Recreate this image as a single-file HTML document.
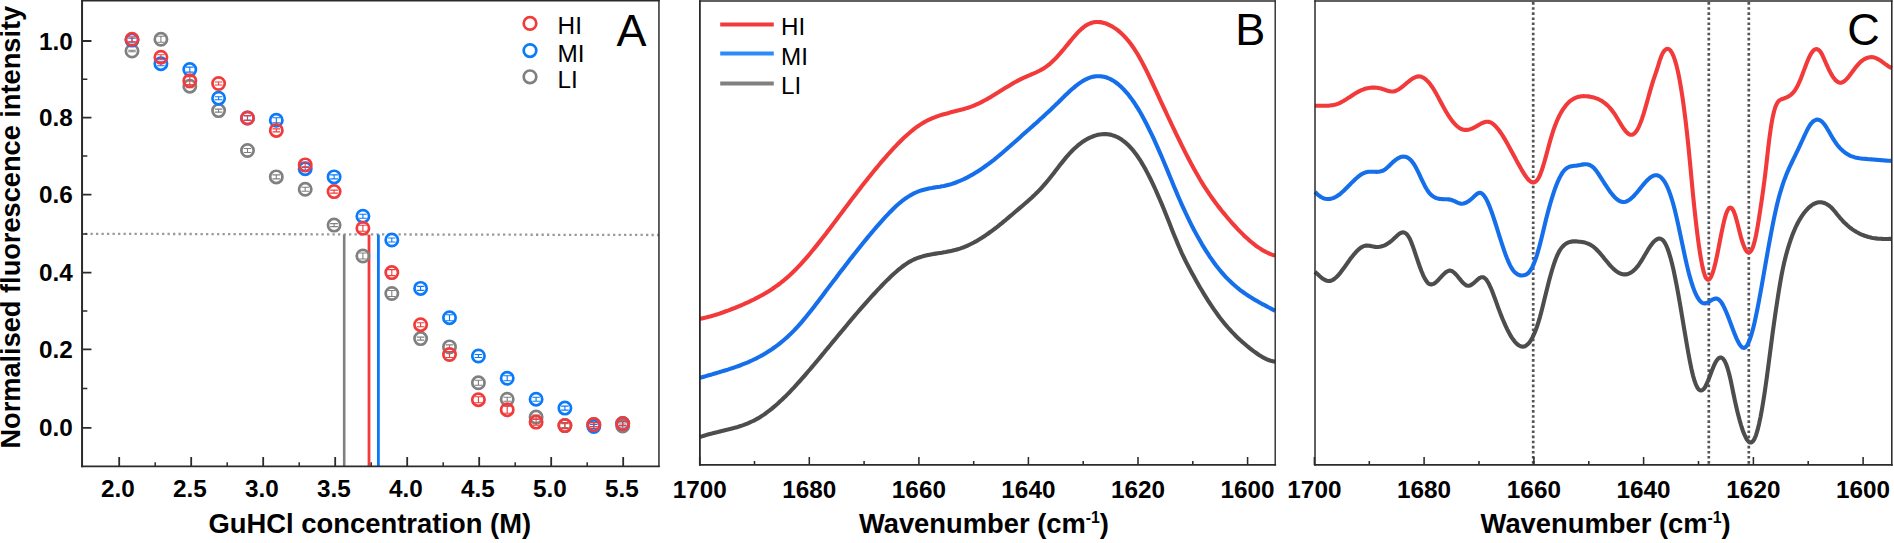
<!DOCTYPE html>
<html lang="en">
<head>
<meta charset="utf-8">
<title>Figure: GuHCl denaturation and FTIR spectra</title>
<style>
html,body{margin:0;padding:0;background:#fff;}
body{width:1894px;height:543px;overflow:hidden;font-family:"Liberation Sans", sans-serif;}
svg{display:block;}
</style>
</head>
<body>
<svg width="1894" height="543" viewBox="0 0 1894 543">
<rect x="0" y="0" width="1894" height="543" fill="#ffffff"/>
<g id="panelA">
<line x1="85.0" y1="233.8" x2="659.0" y2="235.0" stroke="#9a9a9a" stroke-width="2.3" stroke-dasharray="2.3 3.2"/>
<line x1="344.2" y1="234.6" x2="344.2" y2="466.0" stroke="#808080" stroke-width="2.6"/>
<line x1="369.0" y1="234.6" x2="369.0" y2="466.0" stroke="#f23a3a" stroke-width="2.8"/>
<line x1="378.4" y1="234.6" x2="378.4" y2="466.0" stroke="#0a7afa" stroke-width="2.8"/>
<g fill="none" stroke="#808080">
<circle cx="132" cy="51" r="6.15" stroke-width="2.7"/>
<path d="M132 50.2V51.8M128.2 50.2H135.8M128.2 51.8H135.8" stroke-width="1.1"/>
<circle cx="160.9" cy="39.3" r="6.15" stroke-width="2.7"/>
<path d="M160.9 36.3V42.3M157.1 36.3H164.7M157.1 42.3H164.7" stroke-width="1.1"/>
<circle cx="189.8" cy="86.2" r="6.15" stroke-width="2.7"/>
<path d="M189.8 84.7V87.7M185.9 84.7H193.6M185.9 87.7H193.6" stroke-width="1.1"/>
<circle cx="218.6" cy="110.6" r="6.15" stroke-width="2.7"/>
<path d="M218.6 109.1V112.1M214.8 109.1H222.4M214.8 112.1H222.4" stroke-width="1.1"/>
<circle cx="247.5" cy="150.5" r="6.15" stroke-width="2.7"/>
<path d="M247.5 148.5V152.5M243.7 148.5H251.3M243.7 152.5H251.3" stroke-width="1.1"/>
<circle cx="276.3" cy="176.9" r="6.15" stroke-width="2.7"/>
<path d="M276.3 174.9V178.9M272.5 174.9H280.1M272.5 178.9H280.1" stroke-width="1.1"/>
<circle cx="305.2" cy="189.3" r="6.15" stroke-width="2.7"/>
<path d="M305.2 187.3V191.3M301.4 187.3H309M301.4 191.3H309" stroke-width="1.1"/>
<circle cx="334.1" cy="225.1" r="6.15" stroke-width="2.7"/>
<path d="M334.1 223.6V226.6M330.2 223.6H337.9M330.2 226.6H337.9" stroke-width="1.1"/>
<circle cx="362.9" cy="256" r="6.15" stroke-width="2.7"/>
<path d="M362.9 253V259M359.1 253H366.7M359.1 259H366.7" stroke-width="1.1"/>
<circle cx="391.8" cy="293.5" r="6.15" stroke-width="2.7"/>
<path d="M391.8 290.5V296.5M388 290.5H395.6M388 296.5H395.6" stroke-width="1.1"/>
<circle cx="420.6" cy="338.6" r="6.15" stroke-width="2.7"/>
<path d="M420.6 337.1V340.1M416.8 337.1H424.4M416.8 340.1H424.4" stroke-width="1.1"/>
<circle cx="449.5" cy="346.9" r="6.15" stroke-width="2.7"/>
<path d="M449.5 344.9V348.9M445.7 344.9H453.3M445.7 348.9H453.3" stroke-width="1.1"/>
<circle cx="478.4" cy="382.8" r="6.15" stroke-width="2.7"/>
<path d="M478.4 380.3V385.3M474.6 380.3H482.2M474.6 385.3H482.2" stroke-width="1.1"/>
<circle cx="507.2" cy="399.2" r="6.15" stroke-width="2.7"/>
<path d="M507.2 397.2V401.2M503.4 397.2H511M503.4 401.2H511" stroke-width="1.1"/>
<circle cx="536.1" cy="417.1" r="6.15" stroke-width="2.7"/>
<path d="M536.1 415.1V419.1M532.3 415.1H539.9M532.3 419.1H539.9" stroke-width="1.1"/>
<circle cx="564.9" cy="425.6" r="6.15" stroke-width="2.7"/>
<path d="M564.9 423.6V427.6M561.1 423.6H568.7M561.1 427.6H568.7" stroke-width="1.1"/>
<circle cx="593.8" cy="424.6" r="6.15" stroke-width="2.7"/>
<path d="M593.8 422.6V426.6M590 422.6H597.6M590 426.6H597.6" stroke-width="1.1"/>
<circle cx="622.7" cy="426" r="6.15" stroke-width="2.7"/>
<path d="M622.7 424V428M618.9 424H626.5M618.9 428H626.5" stroke-width="1.1"/>
</g>
<g fill="none" stroke="#0a7afa">
<circle cx="132" cy="40.1" r="6.15" stroke-width="2.7"/>
<path d="M132 38.1V42.1M128.2 38.1H135.8M128.2 42.1H135.8" stroke-width="1.1"/>
<circle cx="160.9" cy="63.7" r="6.15" stroke-width="2.7"/>
<path d="M160.9 61.7V65.7M157.1 61.7H164.7M157.1 65.7H164.7" stroke-width="1.1"/>
<circle cx="189.8" cy="69.6" r="6.15" stroke-width="2.7"/>
<path d="M189.8 67.1V72.1M185.9 67.1H193.6M185.9 72.1H193.6" stroke-width="1.1"/>
<circle cx="218.6" cy="98.2" r="6.15" stroke-width="2.7"/>
<path d="M218.6 96.7V99.7M214.8 96.7H222.4M214.8 99.7H222.4" stroke-width="1.1"/>
<circle cx="247.5" cy="118" r="6.15" stroke-width="2.7"/>
<path d="M247.5 116V120M243.7 116H251.3M243.7 120H251.3" stroke-width="1.1"/>
<circle cx="276.3" cy="120.3" r="6.15" stroke-width="2.7"/>
<path d="M276.3 117.8V122.8M272.5 117.8H280.1M272.5 122.8H280.1" stroke-width="1.1"/>
<circle cx="305.2" cy="168.7" r="6.15" stroke-width="2.7"/>
<path d="M305.2 166.7V170.7M301.4 166.7H309M301.4 170.7H309" stroke-width="1.1"/>
<circle cx="334.1" cy="176.9" r="6.15" stroke-width="2.7"/>
<path d="M334.1 174.9V178.9M330.2 174.9H337.9M330.2 178.9H337.9" stroke-width="1.1"/>
<circle cx="362.9" cy="216.2" r="6.15" stroke-width="2.7"/>
<path d="M362.9 214.2V218.2M359.1 214.2H366.7M359.1 218.2H366.7" stroke-width="1.1"/>
<circle cx="391.8" cy="240" r="6.15" stroke-width="2.7"/>
<path d="M391.8 238V242M388 238H395.6M388 242H395.6" stroke-width="1.1"/>
<circle cx="420.6" cy="288.4" r="6.15" stroke-width="2.7"/>
<path d="M420.6 286.4V290.4M416.8 286.4H424.4M416.8 290.4H424.4" stroke-width="1.1"/>
<circle cx="449.5" cy="317.7" r="6.15" stroke-width="2.7"/>
<path d="M449.5 314.7V320.7M445.7 314.7H453.3M445.7 320.7H453.3" stroke-width="1.1"/>
<circle cx="478.4" cy="356" r="6.15" stroke-width="2.7"/>
<path d="M478.4 354.5V357.5M474.6 354.5H482.2M474.6 357.5H482.2" stroke-width="1.1"/>
<circle cx="507.2" cy="378.3" r="6.15" stroke-width="2.7"/>
<path d="M507.2 375.8V380.8M503.4 375.8H511M503.4 380.8H511" stroke-width="1.1"/>
<circle cx="536.1" cy="399.2" r="6.15" stroke-width="2.7"/>
<path d="M536.1 397.2V401.2M532.3 397.2H539.9M532.3 401.2H539.9" stroke-width="1.1"/>
<circle cx="564.9" cy="408.1" r="6.15" stroke-width="2.7"/>
<path d="M564.9 406.1V410.1M561.1 406.1H568.7M561.1 410.1H568.7" stroke-width="1.1"/>
<circle cx="593.8" cy="426.5" r="6.15" stroke-width="2.7"/>
<path d="M593.8 424.5V428.5M590 424.5H597.6M590 428.5H597.6" stroke-width="1.1"/>
<circle cx="622.7" cy="423.6" r="6.15" stroke-width="2.7"/>
<path d="M622.7 421.6V425.6M618.9 421.6H626.5M618.9 425.6H626.5" stroke-width="1.1"/>
</g>
<g fill="none" stroke="#f23a3a">
<circle cx="132" cy="39.3" r="6.15" stroke-width="2.7"/>
<path d="M132 36.8V41.8M128.2 36.8H135.8M128.2 41.8H135.8" stroke-width="1.1"/>
<circle cx="160.9" cy="57.2" r="6.15" stroke-width="2.7"/>
<path d="M160.9 54.7V59.7M157.1 54.7H164.7M157.1 59.7H164.7" stroke-width="1.1"/>
<circle cx="189.8" cy="80.8" r="6.15" stroke-width="2.7"/>
<path d="M189.8 76.8V84.8M185.9 76.8H193.6M185.9 84.8H193.6" stroke-width="1.1"/>
<circle cx="218.6" cy="83.5" r="6.15" stroke-width="2.7"/>
<path d="M218.6 82V85M214.8 82H222.4M214.8 85H222.4" stroke-width="1.1"/>
<circle cx="247.5" cy="118" r="6.15" stroke-width="2.7"/>
<path d="M247.5 115.5V120.5M243.7 115.5H251.3M243.7 120.5H251.3" stroke-width="1.1"/>
<circle cx="276.3" cy="130.4" r="6.15" stroke-width="2.7"/>
<path d="M276.3 128.9V131.9M272.5 128.9H280.1M272.5 131.9H280.1" stroke-width="1.1"/>
<circle cx="305.2" cy="164.9" r="6.15" stroke-width="2.7"/>
<path d="M305.2 162.4V167.4M301.4 162.4H309M301.4 167.4H309" stroke-width="1.1"/>
<circle cx="334.1" cy="191.6" r="6.15" stroke-width="2.7"/>
<path d="M334.1 190.1V193.1M330.2 190.1H337.9M330.2 193.1H337.9" stroke-width="1.1"/>
<circle cx="362.9" cy="228.2" r="6.15" stroke-width="2.7"/>
<path d="M362.9 225.2V231.2M359.1 225.2H366.7M359.1 231.2H366.7" stroke-width="1.1"/>
<circle cx="391.8" cy="272.6" r="6.15" stroke-width="2.7"/>
<path d="M391.8 269.6V275.6M388 269.6H395.6M388 275.6H395.6" stroke-width="1.1"/>
<circle cx="420.6" cy="324.7" r="6.15" stroke-width="2.7"/>
<path d="M420.6 322.7V326.7M416.8 322.7H424.4M416.8 326.7H424.4" stroke-width="1.1"/>
<circle cx="449.5" cy="354.5" r="6.15" stroke-width="2.7"/>
<path d="M449.5 351.5V357.5M445.7 351.5H453.3M445.7 357.5H453.3" stroke-width="1.1"/>
<circle cx="478.4" cy="399.7" r="6.15" stroke-width="2.7"/>
<path d="M478.4 396.7V402.7M474.6 396.7H482.2M474.6 402.7H482.2" stroke-width="1.1"/>
<circle cx="507.2" cy="409.7" r="6.15" stroke-width="2.7"/>
<path d="M507.2 406.2V413.2M503.4 406.2H511M503.4 413.2H511" stroke-width="1.1"/>
<circle cx="536.1" cy="422.1" r="6.15" stroke-width="2.7"/>
<path d="M536.1 419.1V425.1M532.3 419.1H539.9M532.3 425.1H539.9" stroke-width="1.1"/>
<circle cx="564.9" cy="425.6" r="6.15" stroke-width="2.7"/>
<path d="M564.9 422.6V428.6M561.1 422.6H568.7M561.1 428.6H568.7" stroke-width="1.1"/>
<circle cx="593.8" cy="424.6" r="6.15" stroke-width="2.7"/>
<path d="M593.8 422.6V426.6M590 422.6H597.6M590 426.6H597.6" stroke-width="1.1"/>
<circle cx="622.7" cy="423.6" r="6.15" stroke-width="2.7"/>
<path d="M622.7 421.6V425.6M618.9 421.6H626.5M618.9 425.6H626.5" stroke-width="1.1"/>
</g>
<g fill="none" stroke="#2b2b2b" stroke-linecap="square">
<line x1="82.05" y1="0.75" x2="82.05" y2="466.3" stroke-width="2"/>
<line x1="82.05" y1="466.3" x2="658.95" y2="466.3" stroke-width="1.65"/>
<line x1="658.95" y1="0.75" x2="658.95" y2="466.3" stroke-width="1.5"/>
<line x1="82.05" y1="0.75" x2="658.95" y2="0.75" stroke-width="1.6"/>
</g>
<path d="M119.2 466.3v-9.4M191.2 466.3v-9.4M263.2 466.3v-9.4M335.2 466.3v-9.4M407.2 466.3v-9.4M479.2 466.3v-9.4M551.2 466.3v-9.4M623.2 466.3v-9.4M82.05 427.9h9.4M82.05 349.4h9.4M82.05 272.6h9.4M82.05 194.6h9.4M82.05 117.7h9.4M82.05 41.0h9.4" fill="none" stroke="#2b2b2b" stroke-width="1.8"/>
<path d="M155.2 466.3v-4.1M227.2 466.3v-4.1M299.2 466.3v-4.1M371.2 466.3v-4.1M443.2 466.3v-4.1M515.2 466.3v-4.1M587.2 466.3v-4.1M82.05 388.6h5.3M82.05 311.0h5.3M82.05 233.9h5.3M82.05 156.1h5.3M82.05 79.3h5.3" fill="none" stroke="#2b2b2b" stroke-width="1.5"/>
<g font-family='"Liberation Sans", sans-serif' font-weight="bold" font-size="24.3" fill="#000">
<text x="117.9" y="497.4" text-anchor="middle">2.0</text>
<text x="189.9" y="497.4" text-anchor="middle">2.5</text>
<text x="261.9" y="497.4" text-anchor="middle">3.0</text>
<text x="333.9" y="497.4" text-anchor="middle">3.5</text>
<text x="405.9" y="497.4" text-anchor="middle">4.0</text>
<text x="477.9" y="497.4" text-anchor="middle">4.5</text>
<text x="549.9" y="497.4" text-anchor="middle">5.0</text>
<text x="621.9" y="497.4" text-anchor="middle">5.5</text>
<text x="72.8" y="436.4" text-anchor="end">0.0</text>
<text x="72.8" y="357.9" text-anchor="end">0.2</text>
<text x="72.8" y="281.1" text-anchor="end">0.4</text>
<text x="72.8" y="203.1" text-anchor="end">0.6</text>
<text x="72.8" y="126.2" text-anchor="end">0.8</text>
<text x="72.8" y="49.5" text-anchor="end">1.0</text>
</g>
<text x="369.8" y="533.3" text-anchor="middle" font-family='"Liberation Sans", sans-serif' font-weight="bold" font-size="27.4" fill="#000">GuHCl concentration (M)</text>
<text transform="translate(20.1 227.25) rotate(-90)" text-anchor="middle" font-family='"Liberation Sans", sans-serif' font-weight="bold" font-size="27.2" fill="#000">Normalised fluorescence intensity</text>
<circle cx="530" cy="23.4" r="6.3" fill="none" stroke="#f23a3a" stroke-width="2.7"/>
<text x="557.6" y="33.8" font-family='"Liberation Sans", sans-serif' font-size="24.3" fill="#000">HI</text>
<circle cx="530" cy="50.6" r="6.3" fill="none" stroke="#0a7afa" stroke-width="2.7"/>
<text x="557.6" y="61.5" font-family='"Liberation Sans", sans-serif' font-size="24.3" fill="#000">MI</text>
<circle cx="530" cy="76.8" r="6.3" fill="none" stroke="#808080" stroke-width="2.7"/>
<text x="557.6" y="88.2" font-family='"Liberation Sans", sans-serif' font-size="24.3" fill="#000">LI</text>
<text x="631.6" y="45.8" text-anchor="middle" font-family='"Liberation Sans", sans-serif' font-size="45" fill="#000">A</text>
</g>
<g id="panelB">
<path d="M699.9 437.1L701.9 436.4 703.9 435.8 705.9 435.1 707.9 434.5 709.9 434 711.9 433.5 713.9 432.9 715.9 432.4 717.9 432 719.9 431.5 721.9 431 723.9 430.5 725.9 430 727.9 429.6 729.9 429.1 731.9 428.5 733.9 428 735.9 427.4 737.9 426.9 739.9 426.2 741.9 425.6 743.9 424.9 745.9 424.1 747.9 423.3 749.9 422.4 751.9 421.5 753.9 420.6 755.9 419.5 757.9 418.4 759.9 417.2 761.9 415.9 763.9 414.6 765.9 413.2 767.9 411.7 769.9 410.2 771.9 408.6 773.9 406.9 775.9 405.2 777.9 403.5 779.9 401.6 781.9 399.8 783.9 397.8 785.9 395.9 787.9 393.9 789.9 391.8 791.9 389.7 793.9 387.6 795.9 385.4 797.9 383.2 799.9 381 801.9 378.7 803.9 376.5 805.9 374.2 807.9 371.8 809.9 369.5 811.9 367.1 813.9 364.7 815.9 362.4 817.9 360 819.9 357.6 821.9 355.1 823.9 352.7 825.9 350.3 827.9 347.9 829.9 345.5 831.9 343 833.9 340.6 835.9 338.2 837.9 335.8 839.9 333.4 841.9 331 843.9 328.6 845.9 326.2 847.9 323.8 849.9 321.4 851.9 319 853.9 316.7 855.9 314.3 857.9 312 859.9 309.7 861.9 307.4 863.9 305.1 865.9 302.8 867.9 300.6 869.9 298.4 871.9 296.2 873.9 294 875.9 291.8 877.9 289.7 879.9 287.6 881.9 285.5 883.9 283.4 885.9 281.4 887.9 279.4 889.9 277.5 891.9 275.6 893.9 273.7 895.9 272 897.9 270.2 899.9 268.6 901.9 267 903.9 265.5 905.9 264.1 907.9 262.8 909.9 261.6 911.9 260.5 913.9 259.5 915.9 258.7 917.9 257.9 919.9 257.2 921.9 256.6 923.9 256 925.9 255.5 927.9 255.1 929.9 254.7 931.9 254.3 933.9 253.9 935.9 253.6 937.9 253.3 939.9 253 941.9 252.7 943.9 252.3 945.9 252 947.9 251.6 949.9 251.2 951.9 250.8 953.9 250.3 955.9 249.8 957.9 249.2 959.9 248.6 961.9 247.9 963.9 247.2 965.9 246.3 967.9 245.5 969.9 244.5 971.9 243.5 973.9 242.5 975.9 241.4 977.9 240.2 979.9 239 981.9 237.8 983.9 236.5 985.9 235.1 987.9 233.7 989.9 232.3 991.9 230.9 993.9 229.4 995.9 227.8 997.9 226.3 999.9 224.7 1001.9 223.1 1003.9 221.4 1005.9 219.8 1007.9 218.1 1009.9 216.4 1011.9 214.7 1013.9 213 1015.9 211.3 1017.9 209.6 1019.9 207.9 1021.9 206.2 1023.9 204.5 1025.9 202.8 1027.9 201.1 1029.9 199.3 1031.9 197.5 1033.9 195.6 1035.9 193.6 1037.9 191.7 1039.9 189.6 1041.9 187.5 1043.9 185.2 1045.9 182.9 1047.9 180.5 1049.9 178 1051.9 175.5 1053.9 172.9 1055.9 170.3 1057.9 167.7 1059.9 165.1 1061.9 162.6 1063.9 160.1 1065.9 157.6 1067.9 155.3 1069.9 153.1 1071.9 151 1073.9 149 1075.9 147.2 1077.9 145.4 1079.9 143.8 1081.9 142.3 1083.9 141 1085.9 139.7 1087.9 138.6 1089.9 137.6 1091.9 136.8 1093.9 136 1095.9 135.4 1097.9 134.8 1099.9 134.5 1101.9 134.2 1103.9 134.1 1105.9 134.1 1107.9 134.3 1109.9 134.6 1111.9 135.1 1113.9 135.7 1115.9 136.5 1117.9 137.4 1119.9 138.5 1121.9 139.8 1123.9 141.3 1125.9 142.9 1127.9 144.8 1129.9 146.8 1131.9 149 1133.9 151.4 1135.9 154 1137.9 156.8 1139.9 159.8 1141.9 163.1 1143.9 166.5 1145.9 170.1 1147.9 173.9 1149.9 177.8 1151.9 181.9 1153.9 186.2 1155.9 190.5 1157.9 195.1 1159.9 199.7 1161.9 204.4 1163.9 209.3 1165.9 214.2 1167.9 219.3 1169.9 224.3 1171.9 229.4 1173.9 234.4 1175.9 239.3 1177.9 244.1 1179.9 248.8 1181.9 253.3 1183.9 257.5 1185.9 261.6 1187.9 265.5 1189.9 269.3 1191.9 273 1193.9 276.6 1195.9 280.2 1197.9 283.7 1199.9 287.2 1201.9 290.5 1203.9 293.9 1205.9 297.1 1207.9 300.3 1209.9 303.4 1211.9 306.4 1213.9 309.3 1215.9 312.2 1217.9 315 1219.9 317.7 1221.9 320.2 1223.9 322.7 1225.9 325.2 1227.9 327.5 1229.9 329.7 1231.9 331.9 1233.9 333.9 1235.9 336 1237.9 337.9 1239.9 339.8 1241.9 341.6 1243.9 343.3 1245.9 345 1247.9 346.7 1249.9 348.3 1251.9 349.9 1253.9 351.4 1255.9 352.8 1257.9 354.2 1259.9 355.6 1261.9 356.8 1263.9 357.9 1265.9 358.9 1267.9 359.8 1269.9 360.5 1271.9 361.1 1273.9 361.5 1275.2 361.6" fill="none" stroke="#4d4d4d" stroke-width="4.1" stroke-linejoin="round" stroke-linecap="butt"/>
<path d="M699.9 377.9L701.9 377.3 703.9 376.7 705.9 376.1 707.9 375.5 709.9 374.9 711.9 374.4 713.9 373.8 715.9 373.2 717.9 372.6 719.9 372 721.9 371.4 723.9 370.8 725.9 370.2 727.9 369.6 729.9 368.9 731.9 368.3 733.9 367.6 735.9 366.9 737.9 366.2 739.9 365.5 741.9 364.7 743.9 363.9 745.9 363.1 747.9 362.3 749.9 361.4 751.9 360.5 753.9 359.5 755.9 358.6 757.9 357.5 759.9 356.5 761.9 355.4 763.9 354.2 765.9 353.1 767.9 351.8 769.9 350.5 771.9 349.2 773.9 347.8 775.9 346.4 777.9 344.9 779.9 343.3 781.9 341.7 783.9 340 785.9 338.3 787.9 336.4 789.9 334.6 791.9 332.6 793.9 330.6 795.9 328.5 797.9 326.4 799.9 324.1 801.9 321.8 803.9 319.4 805.9 317 807.9 314.5 809.9 312 811.9 309.5 813.9 306.9 815.9 304.3 817.9 301.7 819.9 299 821.9 296.4 823.9 293.7 825.9 291.1 827.9 288.4 829.9 285.8 831.9 283.1 833.9 280.5 835.9 277.9 837.9 275.2 839.9 272.6 841.9 270 843.9 267.4 845.9 264.8 847.9 262.2 849.9 259.6 851.9 257.1 853.9 254.5 855.9 252 857.9 249.5 859.9 247 861.9 244.5 863.9 242 865.9 239.6 867.9 237.1 869.9 234.7 871.9 232.4 873.9 230 875.9 227.7 877.9 225.4 879.9 223.1 881.9 220.8 883.9 218.6 885.9 216.4 887.9 214.3 889.9 212.2 891.9 210.2 893.9 208.2 895.9 206.3 897.9 204.5 899.9 202.8 901.9 201.2 903.9 199.7 905.9 198.2 907.9 196.9 909.9 195.6 911.9 194.5 913.9 193.4 915.9 192.5 917.9 191.6 919.9 190.9 921.9 190.2 923.9 189.7 925.9 189.2 927.9 188.7 929.9 188.3 931.9 188 933.9 187.6 935.9 187.3 937.9 187 939.9 186.7 941.9 186.3 943.9 186 945.9 185.5 947.9 185 949.9 184.5 951.9 183.9 953.9 183.2 955.9 182.5 957.9 181.7 959.9 180.9 961.9 180 963.9 179.1 965.9 178.1 967.9 177.1 969.9 176 971.9 174.9 973.9 173.7 975.9 172.5 977.9 171.3 979.9 170 981.9 168.6 983.9 167.2 985.9 165.8 987.9 164.4 989.9 162.9 991.9 161.3 993.9 159.8 995.9 158.2 997.9 156.5 999.9 154.9 1001.9 153.2 1003.9 151.5 1005.9 149.8 1007.9 148 1009.9 146.3 1011.9 144.5 1013.9 142.8 1015.9 141 1017.9 139.2 1019.9 137.4 1021.9 135.6 1023.9 133.8 1025.9 132 1027.9 130.3 1029.9 128.5 1031.9 126.7 1033.9 124.9 1035.9 123.2 1037.9 121.4 1039.9 119.6 1041.9 117.8 1043.9 115.9 1045.9 114.1 1047.9 112.3 1049.9 110.4 1051.9 108.5 1053.9 106.6 1055.9 104.6 1057.9 102.7 1059.9 100.7 1061.9 98.7 1063.9 96.8 1065.9 94.8 1067.9 92.9 1069.9 91.1 1071.9 89.3 1073.9 87.6 1075.9 85.9 1077.9 84.4 1079.9 82.9 1081.9 81.6 1083.9 80.4 1085.9 79.3 1087.9 78.4 1089.9 77.6 1091.9 77 1093.9 76.6 1095.9 76.3 1097.9 76.2 1099.9 76.2 1101.9 76.4 1103.9 76.8 1105.9 77.3 1107.9 78 1109.9 78.9 1111.9 79.9 1113.9 81.1 1115.9 82.5 1117.9 84 1119.9 85.7 1121.9 87.6 1123.9 89.6 1125.9 91.8 1127.9 94.1 1129.9 96.7 1131.9 99.4 1133.9 102.2 1135.9 105.3 1137.9 108.4 1139.9 111.8 1141.9 115.3 1143.9 119 1145.9 122.8 1147.9 126.7 1149.9 130.8 1151.9 134.9 1153.9 139.2 1155.9 143.6 1157.9 148.1 1159.9 152.6 1161.9 157.3 1163.9 162 1165.9 166.8 1167.9 171.6 1169.9 176.5 1171.9 181.3 1173.9 186.2 1175.9 190.9 1177.9 195.7 1179.9 200.3 1181.9 204.8 1183.9 209.2 1185.9 213.5 1187.9 217.7 1189.9 221.8 1191.9 225.8 1193.9 229.7 1195.9 233.4 1197.9 237.1 1199.9 240.6 1201.9 244.1 1203.9 247.4 1205.9 250.6 1207.9 253.7 1209.9 256.8 1211.9 259.7 1213.9 262.5 1215.9 265.2 1217.9 267.7 1219.9 270.2 1221.9 272.6 1223.9 274.9 1225.9 277.1 1227.9 279.1 1229.9 281.1 1231.9 283 1233.9 284.8 1235.9 286.5 1237.9 288.2 1239.9 289.8 1241.9 291.3 1243.9 292.7 1245.9 294.1 1247.9 295.5 1249.9 296.8 1251.9 298 1253.9 299.2 1255.9 300.4 1257.9 301.5 1259.9 302.7 1261.9 303.8 1263.9 304.8 1265.9 305.9 1267.9 307 1269.9 308 1271.9 309.1 1273.9 310.2 1275.2 310.9" fill="none" stroke="#166fea" stroke-width="4.1" stroke-linejoin="round" stroke-linecap="butt"/>
<path d="M699.9 318.7L701.9 318.4 703.9 318 705.9 317.6 707.9 317.1 709.9 316.6 711.9 316 713.9 315.4 715.9 314.8 717.9 314.1 719.9 313.5 721.9 312.8 723.9 312 725.9 311.3 727.9 310.6 729.9 309.8 731.9 309 733.9 308.3 735.9 307.5 737.9 306.7 739.9 305.8 741.9 305 743.9 304.1 745.9 303.2 747.9 302.3 749.9 301.4 751.9 300.4 753.9 299.5 755.9 298.4 757.9 297.4 759.9 296.3 761.9 295.2 763.9 294.1 765.9 292.9 767.9 291.7 769.9 290.5 771.9 289.2 773.9 287.8 775.9 286.4 777.9 285 779.9 283.5 781.9 281.9 783.9 280.3 785.9 278.6 787.9 276.9 789.9 275.1 791.9 273.2 793.9 271.3 795.9 269.3 797.9 267.2 799.9 265.1 801.9 262.9 803.9 260.7 805.9 258.4 807.9 256.1 809.9 253.7 811.9 251.3 813.9 248.9 815.9 246.4 817.9 243.9 819.9 241.4 821.9 238.8 823.9 236.2 825.9 233.7 827.9 231 829.9 228.4 831.9 225.8 833.9 223.1 835.9 220.5 837.9 217.8 839.9 215.1 841.9 212.5 843.9 209.8 845.9 207.1 847.9 204.5 849.9 201.8 851.9 199.1 853.9 196.5 855.9 193.9 857.9 191.3 859.9 188.7 861.9 186.1 863.9 183.5 865.9 181 867.9 178.5 869.9 176 871.9 173.5 873.9 171 875.9 168.6 877.9 166.2 879.9 163.8 881.9 161.4 883.9 159.1 885.9 156.8 887.9 154.5 889.9 152.3 891.9 150.1 893.9 147.9 895.9 145.8 897.9 143.7 899.9 141.7 901.9 139.7 903.9 137.8 905.9 136 907.9 134.2 909.9 132.5 911.9 130.8 913.9 129.2 915.9 127.7 917.9 126.2 919.9 124.9 921.9 123.6 923.9 122.4 925.9 121.3 927.9 120.2 929.9 119.3 931.9 118.4 933.9 117.6 935.9 116.8 937.9 116.1 939.9 115.4 941.9 114.8 943.9 114.2 945.9 113.7 947.9 113.2 949.9 112.6 951.9 112.1 953.9 111.6 955.9 111.1 957.9 110.6 959.9 110.1 961.9 109.6 963.9 109 965.9 108.4 967.9 107.8 969.9 107.1 971.9 106.4 973.9 105.6 975.9 104.7 977.9 103.8 979.9 102.9 981.9 101.9 983.9 100.8 985.9 99.7 987.9 98.6 989.9 97.4 991.9 96.2 993.9 95 995.9 93.8 997.9 92.6 999.9 91.3 1001.9 90.1 1003.9 88.8 1005.9 87.6 1007.9 86.4 1009.9 85.2 1011.9 84 1013.9 82.8 1015.9 81.7 1017.9 80.6 1019.9 79.6 1021.9 78.6 1023.9 77.7 1025.9 76.8 1027.9 75.9 1029.9 75.1 1031.9 74.2 1033.9 73.4 1035.9 72.5 1037.9 71.5 1039.9 70.5 1041.9 69.4 1043.9 68.2 1045.9 66.9 1047.9 65.4 1049.9 63.8 1051.9 62 1053.9 60.1 1055.9 58.1 1057.9 55.9 1059.9 53.7 1061.9 51.4 1063.9 49 1065.9 46.5 1067.9 44.1 1069.9 41.6 1071.9 39.2 1073.9 36.8 1075.9 34.6 1077.9 32.4 1079.9 30.4 1081.9 28.6 1083.9 26.9 1085.9 25.5 1087.9 24.4 1089.9 23.5 1091.9 22.8 1093.9 22.3 1095.9 22 1097.9 22 1099.9 22.1 1101.9 22.4 1103.9 22.9 1105.9 23.5 1107.9 24.3 1109.9 25.3 1111.9 26.3 1113.9 27.6 1115.9 28.9 1117.9 30.4 1119.9 32.1 1121.9 33.9 1123.9 35.9 1125.9 38 1127.9 40.3 1129.9 42.8 1131.9 45.5 1133.9 48.4 1135.9 51.5 1137.9 54.7 1139.9 58.2 1141.9 61.9 1143.9 65.7 1145.9 69.6 1147.9 73.6 1149.9 77.8 1151.9 82 1153.9 86.3 1155.9 90.6 1157.9 94.9 1159.9 99.3 1161.9 103.6 1163.9 107.9 1165.9 112.2 1167.9 116.5 1169.9 120.7 1171.9 125 1173.9 129.1 1175.9 133.3 1177.9 137.4 1179.9 141.5 1181.9 145.6 1183.9 149.6 1185.9 153.6 1187.9 157.5 1189.9 161.3 1191.9 165.1 1193.9 168.7 1195.9 172.3 1197.9 175.8 1199.9 179.3 1201.9 182.6 1203.9 185.8 1205.9 188.9 1207.9 191.9 1209.9 194.9 1211.9 197.7 1213.9 200.5 1215.9 203.2 1217.9 205.9 1219.9 208.4 1221.9 211 1223.9 213.4 1225.9 215.8 1227.9 218.2 1229.9 220.5 1231.9 222.8 1233.9 225 1235.9 227.2 1237.9 229.3 1239.9 231.4 1241.9 233.4 1243.9 235.4 1245.9 237.3 1247.9 239.1 1249.9 240.9 1251.9 242.5 1253.9 244.1 1255.9 245.7 1257.9 247.1 1259.9 248.4 1261.9 249.7 1263.9 250.9 1265.9 252 1267.9 252.9 1269.9 253.8 1271.9 254.6 1273.9 255.3 1275.2 255.6" fill="none" stroke="#f23a3a" stroke-width="4.1" stroke-linejoin="round" stroke-linecap="butt"/>
<g fill="none" stroke="#2b2b2b" stroke-linecap="square">
<line x1="699.9" y1="1.1" x2="699.9" y2="464.9" stroke-width="1.8"/>
<line x1="699.9" y1="464.9" x2="1275.2" y2="464.9" stroke-width="1.8"/>
<line x1="1275.2" y1="1.1" x2="1275.2" y2="464.9" stroke-width="1.4"/>
<line x1="699.9" y1="1.1" x2="1275.2" y2="1.1" stroke-width="1.5"/>
</g>
<path d="M699.7 464.9v-8M809.3 464.9v-8M918.9 464.9v-8M1028.4 464.9v-8M1138 464.9v-8M1247.6 464.9v-8M754.5 464.9v-3.9M864.1 464.9v-3.9M973.7 464.9v-3.9M1083.2 464.9v-3.9M1192.8 464.9v-3.9" fill="none" stroke="#2b2b2b" stroke-width="1.55"/>
<g font-family='"Liberation Sans", sans-serif' font-weight="bold" font-size="24.3" fill="#000" text-anchor="middle">
<text x="699.7" y="497.7">1700</text>
<text x="809.3" y="497.7">1680</text>
<text x="918.9" y="497.7">1660</text>
<text x="1028.4" y="497.7">1640</text>
<text x="1138" y="497.7">1620</text>
<text x="1247.6" y="497.7">1600</text>
</g>
<text x="858.9" y="532.7" font-family='"Liberation Sans", sans-serif' font-weight="bold" font-size="27.35" fill="#000">Wavenumber (cm<tspan font-size="15.8" dy="-10.2">-1</tspan><tspan dy="10.2">)</tspan></text>
<line x1="720.2" y1="24.4" x2="773.8" y2="24.4" stroke="#f23a3a" stroke-width="4"/>
<text x="781.1" y="35.0" font-family='"Liberation Sans", sans-serif' font-size="24.2" fill="#000">HI</text>
<line x1="720.2" y1="53.4" x2="773.8" y2="53.4" stroke="#2a8cfa" stroke-width="4"/>
<text x="781.1" y="64.8" font-family='"Liberation Sans", sans-serif' font-size="24.2" fill="#000">MI</text>
<line x1="720.2" y1="83.4" x2="773.8" y2="83.4" stroke="#808080" stroke-width="4"/>
<text x="781.1" y="94.0" font-family='"Liberation Sans", sans-serif' font-size="24.2" fill="#000">LI</text>
<text x="1250.3" y="45.4" text-anchor="middle" font-family='"Liberation Sans", sans-serif' font-size="45" fill="#000">B</text>
</g>
<g id="panelC">
<line x1="1533.2" y1="2.1" x2="1533.2" y2="464.9" stroke="#555555" stroke-width="2.7" stroke-dasharray="2.6 2.5"/>
<line x1="1708.8" y1="2.1" x2="1708.8" y2="464.9" stroke="#555555" stroke-width="2.7" stroke-dasharray="2.6 2.5"/>
<line x1="1748.8" y1="2.1" x2="1748.8" y2="464.9" stroke="#555555" stroke-width="2.7" stroke-dasharray="2.6 2.5"/>
<path d="M1315 271.7L1316.5 273.2 1318 274.6 1319.5 276 1321 277.3 1322.5 278.5 1324 279.4 1325.5 280.2 1327 280.7 1328.5 281 1330 280.9 1331.5 280.5 1333 279.8 1334.5 278.8 1336 277.5 1337.5 276.1 1339 274.4 1340.5 272.6 1342 270.6 1343.5 268.6 1345 266.5 1346.5 264.3 1348 262.2 1349.5 260.1 1351 258.1 1352.5 256.2 1354 254.3 1355.5 252.6 1357 251 1358.5 249.6 1360 248.3 1361.5 247.3 1363 246.4 1364.5 245.9 1366 245.6 1367.5 245.5 1369 245.7 1370.5 245.9 1372 246.3 1373.5 246.6 1375 246.9 1376.5 247 1378 247 1379.5 246.8 1381 246.5 1382.5 246.1 1384 245.6 1385.5 244.9 1387 244 1388.5 243.1 1390 242 1391.5 240.8 1393 239.5 1394.5 238.1 1396 236.7 1397.5 235.3 1399 234 1400.5 233.1 1402 232.5 1403.5 232.4 1405 232.9 1406.5 233.9 1408 235.7 1409.5 238.2 1411 241.5 1412.5 245.4 1414 249.6 1415.5 254.1 1417 258.6 1418.5 263 1420 267.2 1421.5 271.2 1423 274.8 1424.5 278 1426 280.6 1427.5 282.6 1429 283.8 1430.5 284.4 1432 284.4 1433.5 283.9 1435 283 1436.5 281.7 1438 280.3 1439.5 278.7 1441 277 1442.5 275.4 1444 273.9 1445.5 272.5 1447 271.5 1448.5 270.8 1450 270.6 1451.5 270.9 1453 271.7 1454.5 273 1456 274.5 1457.5 276.2 1459 278.1 1460.5 279.9 1462 281.7 1463.5 283.2 1465 284.5 1466.5 285.4 1468 285.7 1469.5 285.6 1471 285 1472.5 284 1474 282.8 1475.5 281.5 1477 280.1 1478.5 278.8 1480 277.8 1481.5 277.2 1483 277.2 1484.5 277.9 1486 279.3 1487.5 281.4 1489 284.1 1490.5 287.3 1492 290.8 1493.5 294.7 1495 298.8 1496.5 302.9 1498 307.1 1499.5 311.1 1501 315 1502.5 318.8 1504 322.3 1505.5 325.7 1507 328.9 1508.5 331.8 1510 334.6 1511.5 337.1 1513 339.3 1514.5 341.3 1516 343 1517.5 344.4 1519 345.5 1520.5 346.2 1522 346.6 1523.5 346.6 1525 346.2 1526.5 345.3 1528 344 1529.5 342.3 1531 340.1 1532.5 337.4 1534 334.2 1535.5 330.6 1537 326.5 1538.5 321.9 1540 316.8 1541.5 311.2 1543 305.2 1544.5 299.1 1546 292.9 1547.5 286.9 1549 281.1 1550.5 275.5 1552 270.3 1553.5 265.4 1555 261 1556.5 257.1 1558 253.7 1559.5 250.8 1561 248.5 1562.5 246.7 1564 245.2 1565.5 244 1567 243.1 1568.5 242.4 1570 241.9 1571.5 241.6 1573 241.4 1574.5 241.4 1576 241.4 1577.5 241.5 1579 241.7 1580.5 241.8 1582 242 1583.5 242.3 1585 242.6 1586.5 243.1 1588 243.6 1589.5 244.3 1591 245.1 1592.5 246.1 1594 247.2 1595.5 248.5 1597 250 1598.5 251.6 1600 253.2 1601.5 255 1603 256.8 1604.5 258.7 1606 260.5 1607.5 262.3 1609 264.1 1610.5 265.8 1612 267.4 1613.5 268.9 1615 270.2 1616.5 271.4 1618 272.4 1619.5 273.2 1621 273.8 1622.5 274.2 1624 274.4 1625.5 274.4 1627 274.2 1628.5 273.7 1630 273.1 1631.5 272.2 1633 271.1 1634.5 269.8 1636 268.2 1637.5 266.4 1639 264.4 1640.5 262.2 1642 259.8 1643.5 257.3 1645 254.7 1646.5 252.2 1648 249.7 1649.5 247.4 1651 245.2 1652.5 243.2 1654 241.5 1655.5 240.2 1657 239.2 1658.5 238.6 1660 238.6 1661.5 239.1 1663 240.3 1664.5 242.3 1666 245 1667.5 248.5 1669 252.8 1670.5 257.8 1672 263.5 1673.5 269.9 1675 277 1676.5 284.6 1678 292.7 1679.5 301.2 1681 309.9 1682.5 318.8 1684 327.8 1685.5 336.7 1687 345.5 1688.5 354 1690 361.9 1691.5 369.2 1693 375.5 1694.5 380.8 1696 384.9 1697.5 387.9 1699 389.7 1700.5 390.5 1702 390.3 1703.5 389.2 1705 387.2 1706.5 384.3 1708 380.8 1709.5 377 1711 373 1712.5 369.1 1714 365.5 1715.5 362.4 1717 360 1718.5 358.3 1720 357.5 1721.5 357.6 1723 358.6 1724.5 360.7 1726 363.8 1727.5 368 1729 373.2 1730.5 379.5 1732 386.6 1733.5 394 1735 401.1 1736.5 407.8 1738 414.1 1739.5 419.8 1741 425 1742.5 429.7 1744 433.7 1745.5 437 1747 439.7 1748.5 441.5 1750 442.5 1751.5 442.4 1753 441.2 1754.5 438.8 1756 435.2 1757.5 430.2 1759 424.2 1760.5 417.1 1762 409 1763.5 400 1765 390.2 1766.5 379.7 1768 368.6 1769.5 357.1 1771 345.5 1772.5 334.1 1774 323.2 1775.5 312.8 1777 302.7 1778.5 293 1780 283.9 1781.5 275.4 1783 267.9 1784.5 261.2 1786 255.3 1787.5 249.9 1789 244.9 1790.5 240.3 1792 236.1 1793.5 232.3 1795 228.7 1796.5 225.5 1798 222.5 1799.5 219.8 1801 217.4 1802.5 215.1 1804 213 1805.5 211.2 1807 209.5 1808.5 207.9 1810 206.6 1811.5 205.4 1813 204.4 1814.5 203.6 1816 203 1817.5 202.6 1819 202.3 1820.5 202.3 1822 202.4 1823.5 202.7 1825 203.2 1826.5 204 1828 204.9 1829.5 206 1831 207.3 1832.5 208.8 1834 210.5 1835.5 212.3 1837 214.2 1838.5 216 1840 217.8 1841.5 219.5 1843 221.2 1844.5 222.7 1846 224.1 1847.5 225.5 1849 226.8 1850.5 228 1852 229.1 1853.5 230.1 1855 231.1 1856.5 232 1858 232.8 1859.5 233.6 1861 234.3 1862.5 234.9 1864 235.5 1865.5 236.1 1867 236.5 1868.5 237 1870 237.3 1871.5 237.7 1873 238 1874.5 238.2 1876 238.4 1877.5 238.6 1879 238.7 1880.5 238.8 1882 238.9 1883.5 239 1885 239 1886.5 239 1888 239 1889.5 238.9 1891 238.9 1891.8 238.9" fill="none" stroke="#4d4d4d" stroke-width="4.1" stroke-linejoin="round" stroke-linecap="butt"/>
<path d="M1315 191.8L1316.5 193.4 1318 194.8 1319.5 196 1321 197 1322.5 197.8 1324 198.4 1325.5 198.8 1327 199 1328.5 199 1330 198.9 1331.5 198.6 1333 198.1 1334.5 197.5 1336 196.7 1337.5 195.8 1339 194.8 1340.5 193.6 1342 192.3 1343.5 191 1345 189.5 1346.5 188 1348 186.5 1349.5 185 1351 183.4 1352.5 181.9 1354 180.5 1355.5 179 1357 177.7 1358.5 176.4 1360 175.3 1361.5 174.3 1363 173.4 1364.5 172.8 1366 172.2 1367.5 171.9 1369 171.8 1370.5 171.7 1372 171.7 1373.5 171.8 1375 171.8 1376.5 171.9 1378 171.8 1379.5 171.6 1381 171.3 1382.5 170.8 1384 170.1 1385.5 169.1 1387 167.8 1388.5 166.5 1390 165 1391.5 163.5 1393 162.1 1394.5 160.8 1396 159.6 1397.5 158.6 1399 157.8 1400.5 157.1 1402 156.7 1403.5 156.6 1405 156.7 1406.5 157.1 1408 157.8 1409.5 158.9 1411 160.3 1412.5 162.1 1414 164.2 1415.5 166.8 1417 169.6 1418.5 172.7 1420 175.9 1421.5 179.1 1423 182.2 1424.5 185.2 1426 188 1427.5 190.5 1429 192.6 1430.5 194.3 1432 195.6 1433.5 196.7 1435 197.5 1436.5 198.1 1438 198.6 1439.5 198.9 1441 199 1442.5 199.1 1444 199.2 1445.5 199.2 1447 199.3 1448.5 199.4 1450 199.6 1451.5 200 1453 200.5 1454.5 201.2 1456 201.9 1457.5 202.6 1459 203.2 1460.5 203.6 1462 203.7 1463.5 203.5 1465 203.1 1466.5 202.4 1468 201.5 1469.5 200.5 1471 199.3 1472.5 198 1474 196.6 1475.5 195.2 1477 193.9 1478.5 193.1 1480 192.8 1481.5 193.3 1483 194.4 1484.5 196.3 1486 198.7 1487.5 201.7 1489 205.1 1490.5 208.9 1492 213 1493.5 217.4 1495 222 1496.5 226.7 1498 231.5 1499.5 236.3 1501 241 1502.5 245.6 1504 250.1 1505.5 254.4 1507 258.3 1508.5 261.9 1510 265.1 1511.5 267.9 1513 270.2 1514.5 272 1516 273.3 1517.5 274.3 1519 275 1520.5 275.4 1522 275.5 1523.5 275.3 1525 275 1526.5 274.3 1528 273.3 1529.5 271.7 1531 269.5 1532.5 266.7 1534 263.3 1535.5 259.3 1537 254.8 1538.5 249.7 1540 244.1 1541.5 238.2 1543 232 1544.5 225.7 1546 219.6 1547.5 213.7 1549 208.1 1550.5 202.8 1552 197.8 1553.5 193.1 1555 188.7 1556.5 184.7 1558 181.1 1559.5 177.9 1561 175.1 1562.5 172.6 1564 170.7 1565.5 169.1 1567 168 1568.5 167.2 1570 166.6 1571.5 166.3 1573 166 1574.5 165.8 1576 165.7 1577.5 165.4 1579 165.2 1580.5 164.9 1582 164.6 1583.5 164.4 1585 164.3 1586.5 164.3 1588 164.5 1589.5 164.9 1591 165.7 1592.5 166.7 1594 168.1 1595.5 169.8 1597 171.8 1598.5 174 1600 176.3 1601.5 178.7 1603 181 1604.5 183.4 1606 185.7 1607.5 187.9 1609 190.1 1610.5 192.2 1612 194.1 1613.5 195.9 1615 197.5 1616.5 198.9 1618 200 1619.5 201 1621 201.6 1622.5 202 1624 202 1625.5 201.7 1627 201.2 1628.5 200.4 1630 199.4 1631.5 198.1 1633 196.7 1634.5 195.2 1636 193.5 1637.5 191.8 1639 189.9 1640.5 188.1 1642 186.2 1643.5 184.4 1645 182.7 1646.5 181 1648 179.5 1649.5 178.2 1651 177 1652.5 176.2 1654 175.5 1655.5 175.2 1657 175.3 1658.5 175.7 1660 176.5 1661.5 177.8 1663 179.5 1664.5 181.6 1666 184.2 1667.5 187.3 1669 191 1670.5 195.1 1672 199.8 1673.5 205 1675 210.8 1676.5 217.1 1678 223.8 1679.5 230.8 1681 237.9 1682.5 245 1684 252.1 1685.5 259 1687 265.6 1688.5 271.7 1690 277.4 1691.5 282.5 1693 287 1694.5 291.1 1696 294.5 1697.5 297.4 1699 299.7 1700.5 301.5 1702 302.7 1703.5 303.3 1705 303.4 1706.5 303 1708 302.3 1709.5 301.4 1711 300.5 1712.5 299.6 1714 298.9 1715.5 298.5 1717 298.6 1718.5 299.3 1720 300.7 1721.5 302.6 1723 305.1 1724.5 308.1 1726 311.5 1727.5 315.1 1729 319 1730.5 322.9 1732 327 1733.5 331 1735 334.8 1736.5 338.4 1738 341.6 1739.5 344.3 1741 346.3 1742.5 347.6 1744 348 1745.5 347.3 1747 345.5 1748.5 342.7 1750 339 1751.5 334.3 1753 328.9 1754.5 322.7 1756 315.8 1757.5 308.5 1759 300.6 1760.5 292.5 1762 284.1 1763.5 275.5 1765 266.9 1766.5 258.4 1768 249.9 1769.5 241.6 1771 233.6 1772.5 225.8 1774 218.4 1775.5 211.4 1777 204.8 1778.5 198.8 1780 193.3 1781.5 188.3 1783 183.6 1784.5 179.4 1786 175.5 1787.5 171.8 1789 168.4 1790.5 165.1 1792 162 1793.5 158.9 1795 155.8 1796.5 152.7 1798 149.6 1799.5 146.4 1801 143.2 1802.5 140 1804 136.7 1805.5 133.5 1807 130.4 1808.5 127.5 1810 125.1 1811.5 123.1 1813 121.5 1814.5 120.5 1816 119.8 1817.5 119.6 1819 119.9 1820.5 120.6 1822 121.7 1823.5 123.3 1825 125.2 1826.5 127.5 1828 130 1829.5 132.6 1831 135.2 1832.5 137.8 1834 140.2 1835.5 142.5 1837 144.5 1838.5 146.4 1840 148.1 1841.5 149.6 1843 151 1844.5 152.2 1846 153.3 1847.5 154.2 1849 155.1 1850.5 155.8 1852 156.4 1853.5 156.9 1855 157.4 1856.5 157.7 1858 158 1859.5 158.3 1861 158.5 1862.5 158.7 1864 158.8 1865.5 158.9 1867 159 1868.5 159.2 1870 159.3 1871.5 159.4 1873 159.5 1874.5 159.6 1876 159.8 1877.5 159.9 1879 160 1880.5 160.1 1882 160.3 1883.5 160.4 1885 160.5 1886.5 160.6 1888 160.7 1889.5 160.8 1891 160.9 1891.8 160.9" fill="none" stroke="#166fea" stroke-width="4.1" stroke-linejoin="round" stroke-linecap="butt"/>
<path d="M1315 105.9L1316.5 105.8 1318 105.8 1319.5 105.8 1321 105.8 1322.5 105.8 1324 105.8 1325.5 105.8 1327 105.7 1328.5 105.7 1330 105.5 1331.5 105.3 1333 105.1 1334.5 104.8 1336 104.4 1337.5 103.9 1339 103.3 1340.5 102.6 1342 101.8 1343.5 101 1345 100.1 1346.5 99.1 1348 98.1 1349.5 97.2 1351 96.2 1352.5 95.2 1354 94.2 1355.5 93.3 1357 92.4 1358.5 91.6 1360 90.8 1361.5 90.1 1363 89.6 1364.5 89 1366 88.6 1367.5 88.2 1369 88 1370.5 87.8 1372 87.6 1373.5 87.6 1375 87.6 1376.5 87.7 1378 87.9 1379.5 88.2 1381 88.5 1382.5 89 1384 89.4 1385.5 90 1387 90.5 1388.5 90.9 1390 91.3 1391.5 91.5 1393 91.5 1394.5 91.2 1396 90.7 1397.5 90 1399 89.2 1400.5 88.1 1402 87 1403.5 85.8 1405 84.5 1406.5 83.2 1408 82 1409.5 80.8 1411 79.6 1412.5 78.6 1414 77.8 1415.5 77.1 1417 76.6 1418.5 76.4 1420 76.5 1421.5 76.8 1423 77.5 1424.5 78.4 1426 79.6 1427.5 81.1 1429 82.7 1430.5 84.6 1432 86.7 1433.5 89 1435 91.5 1436.5 94.1 1438 96.9 1439.5 99.7 1441 102.5 1442.5 105.3 1444 108.1 1445.5 110.7 1447 113.2 1448.5 115.6 1450 117.8 1451.5 119.9 1453 121.9 1454.5 123.6 1456 125.2 1457.5 126.5 1459 127.7 1460.5 128.6 1462 129.3 1463.5 129.7 1465 129.9 1466.5 129.9 1468 129.7 1469.5 129.4 1471 128.9 1472.5 128.3 1474 127.6 1475.5 126.8 1477 125.9 1478.5 125.1 1480 124.2 1481.5 123.4 1483 122.7 1484.5 122.2 1486 121.8 1487.5 121.7 1489 121.9 1490.5 122.4 1492 123.2 1493.5 124.3 1495 125.7 1496.5 127.3 1498 129.1 1499.5 131 1501 133.2 1502.5 135.4 1504 137.9 1505.5 140.4 1507 143 1508.5 145.7 1510 148.4 1511.5 151.2 1513 154 1514.5 156.8 1516 159.6 1517.5 162.4 1519 165.1 1520.5 167.8 1522 170.4 1523.5 172.8 1525 175.2 1526.5 177.3 1528 179.2 1529.5 180.7 1531 181.8 1532.5 182.4 1534 182.4 1535.5 181.7 1537 180.3 1538.5 178.1 1540 175 1541.5 171.1 1543 166.5 1544.5 161.5 1546 156.1 1547.5 150.5 1549 145 1550.5 139.6 1552 134.6 1553.5 129.9 1555 125.7 1556.5 121.9 1558 118.5 1559.5 115.4 1561 112.6 1562.5 110.2 1564 107.9 1565.5 105.9 1567 104.2 1568.5 102.6 1570 101.2 1571.5 100.1 1573 99.1 1574.5 98.3 1576 97.6 1577.5 97.1 1579 96.7 1580.5 96.4 1582 96.2 1583.5 96.1 1585 96.2 1586.5 96.3 1588 96.4 1589.5 96.6 1591 96.9 1592.5 97.2 1594 97.6 1595.5 98.1 1597 98.6 1598.5 99.2 1600 100 1601.5 100.8 1603 101.8 1604.5 102.9 1606 104.1 1607.5 105.4 1609 106.9 1610.5 108.6 1612 110.4 1613.5 112.4 1615 114.6 1616.5 117 1618 119.5 1619.5 122 1621 124.5 1622.5 126.9 1624 129.1 1625.5 131.1 1627 132.7 1628.5 133.9 1630 134.7 1631.5 134.8 1633 134.4 1634.5 133.3 1636 131.6 1637.5 129.3 1639 126.3 1640.5 122.8 1642 118.7 1643.5 114.1 1645 109.1 1646.5 103.9 1648 98.5 1649.5 93.1 1651 87.9 1652.5 82.9 1654 78.2 1655.5 73.9 1657 69.5 1658.5 64.6 1660 59.7 1661.5 55.7 1663 52.7 1664.5 50.5 1666 49.2 1667.5 48.8 1669 49.2 1670.5 50.6 1672 52.8 1673.5 56.1 1675 60.4 1676.5 65.6 1678 71.9 1679.5 79.3 1681 87.8 1682.5 97.4 1684 108.1 1685.5 120 1687 133 1688.5 147.2 1690 162.5 1691.5 178.7 1693 194.6 1694.5 209.3 1696 222.8 1697.5 235.2 1699 246.4 1700.5 256.2 1702 264.5 1703.5 271.2 1705 276 1706.5 278.8 1708 279.8 1709.5 279.1 1711 276.9 1712.5 273.3 1714 268.5 1715.5 262.5 1717 255.7 1718.5 248.3 1720 240.5 1721.5 232.9 1723 225.8 1724.5 219.4 1726 214.1 1727.5 210.4 1729 208.2 1730.5 207.5 1732 208.4 1733.5 210.8 1735 214.7 1736.5 219.8 1738 225.6 1739.5 231.6 1741 237.3 1742.5 242.3 1744 246.4 1745.5 249.6 1747 251.7 1748.5 252.6 1750 252.1 1751.5 250.2 1753 246.8 1754.5 241.9 1756 235.4 1757.5 227.3 1759 218.1 1760.5 208.3 1762 198.2 1763.5 187.5 1765 176 1766.5 163.2 1768 149.8 1769.5 137.4 1771 126.7 1772.5 118.1 1774 111.5 1775.5 106.7 1777 103.4 1778.5 101.2 1780 100 1781.5 99.2 1783 98.7 1784.5 98.2 1786 97.6 1787.5 96.9 1789 96.1 1790.5 95.1 1792 93.8 1793.5 92.2 1795 90.2 1796.5 87.9 1798 85 1799.5 81.7 1801 78.1 1802.5 74.2 1804 70.1 1805.5 66.2 1807 62.3 1808.5 58.7 1810 55.6 1811.5 52.9 1813 50.9 1814.5 49.7 1816 49.1 1817.5 49.3 1819 50.2 1820.5 51.9 1822 54.4 1823.5 57.6 1825 61 1826.5 64.4 1828 67.7 1829.5 70.8 1831 73.6 1832.5 76.1 1834 78.3 1835.5 80.1 1837 81.4 1838.5 82.3 1840 82.7 1841.5 82.6 1843 82 1844.5 81 1846 79.7 1847.5 78.1 1849 76.3 1850.5 74.3 1852 72.3 1853.5 70.2 1855 68.2 1856.5 66.3 1858 64.6 1859.5 63 1861 61.6 1862.5 60.4 1864 59.4 1865.5 58.6 1867 57.9 1868.5 57.5 1870 57.2 1871.5 57.1 1873 57.3 1874.5 57.6 1876 58.1 1877.5 58.8 1879 59.7 1880.5 60.6 1882 61.7 1883.5 62.8 1885 63.9 1886.5 64.9 1888 66 1889.5 66.9 1891 67.7 1891.8 68.1" fill="none" stroke="#f23a3a" stroke-width="4.1" stroke-linejoin="round" stroke-linecap="butt"/>
<g fill="none" stroke="#2b2b2b" stroke-linecap="square">
<line x1="1315.0" y1="1.1" x2="1315.0" y2="464.9" stroke-width="1.5"/>
<line x1="1315.0" y1="464.9" x2="1891.8" y2="464.9" stroke-width="1.8"/>
<line x1="1891.8" y1="1.1" x2="1891.8" y2="464.9" stroke-width="1.55"/>
<line x1="1315.0" y1="1.1" x2="1891.8" y2="1.1" stroke-width="1.5"/>
</g>
<path d="M1314.4 464.9v-8M1424.1 464.9v-8M1533.9 464.9v-8M1643.6 464.9v-8M1753.4 464.9v-8M1863.1 464.9v-8M1369.3 464.9v-3.9M1479 464.9v-3.9M1588.8 464.9v-3.9M1698.5 464.9v-3.9M1808.2 464.9v-3.9" fill="none" stroke="#2b2b2b" stroke-width="1.55"/>
<g font-family='"Liberation Sans", sans-serif' font-weight="bold" font-size="24.3" fill="#000" text-anchor="middle">
<text x="1314.4" y="497.7">1700</text>
<text x="1424.1" y="497.7">1680</text>
<text x="1533.9" y="497.7">1660</text>
<text x="1643.6" y="497.7">1640</text>
<text x="1753.4" y="497.7">1620</text>
<text x="1863.1" y="497.7">1600</text>
</g>
<text x="1480.6" y="532.7" font-family='"Liberation Sans", sans-serif' font-weight="bold" font-size="27.35" fill="#000">Wavenumber (cm<tspan font-size="15.8" dy="-10.2">-1</tspan><tspan dy="10.2">)</tspan></text>
<text x="1863.4" y="45.4" text-anchor="middle" font-family='"Liberation Sans", sans-serif' font-size="45" fill="#000">C</text>
</g>
</svg>
</body>
</html>
